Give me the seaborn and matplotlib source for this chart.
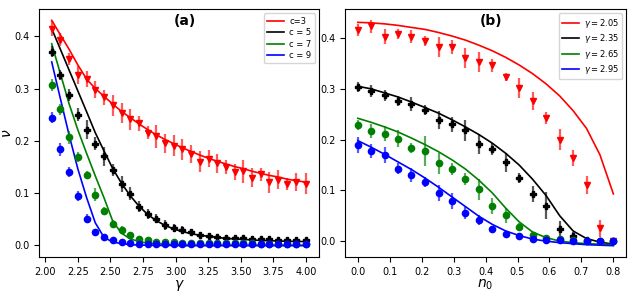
import matplotlib
matplotlib.use('Agg')
import matplotlib.pyplot as plt
import numpy as np
import pandas as pd
import seaborn as sns

# panel (a): nu vs gamma for several c
gamma = [2.05, 2.117, 2.184, 2.251, 2.318, 2.384, 2.451, 2.518, 2.585, 2.652,
         2.719, 2.786, 2.852, 2.919, 2.986, 3.052, 3.119, 3.186, 3.252, 3.319,
         3.386, 3.452, 3.519, 3.586, 3.652, 3.719, 3.786, 3.852, 3.919, 4.0]

sim_c3 = [0.415, 0.394, 0.357, 0.326, 0.318, 0.298, 0.283, 0.268, 0.253, 0.241,
          0.233, 0.215, 0.208, 0.195, 0.190, 0.183, 0.174, 0.159, 0.165, 0.156,
          0.149, 0.140, 0.141, 0.129, 0.135, 0.120, 0.125, 0.117, 0.120, 0.117]
err_c3 = [0.015, 0.012, 0.012, 0.018, 0.016, 0.017, 0.015, 0.02, 0.02, 0.02,
          0.015, 0.012, 0.022, 0.018, 0.02, 0.02, 0.018, 0.02, 0.016, 0.018,
          0.014, 0.015, 0.022, 0.018, 0.012, 0.02, 0.018, 0.012, 0.017, 0.02]
sim_c5 = [0.371, 0.326, 0.288, 0.250, 0.221, 0.194, 0.170, 0.143, 0.117, 0.098,
          0.073, 0.059, 0.050, 0.038, 0.032, 0.029, 0.024, 0.019, 0.017, 0.015,
          0.0135, 0.012, 0.012, 0.010, 0.010, 0.010, 0.008, 0.008, 0.009, 0.009]
err_c5 = [0.01, 0.01, 0.012, 0.013, 0.018, 0.012, 0.018, 0.012, 0.015, 0.012,
          0.01, 0.01, 0.008, 0.01, 0.007, 0.006, 0.006, 0.005, 0.005, 0.005,
          0.005, 0.005, 0.005, 0.004, 0.004, 0.004, 0.004, 0.004, 0.004, 0.004]
sim_c7 = [0.307, 0.260, 0.206, 0.168, 0.134, 0.096, 0.065, 0.040, 0.028, 0.019,
          0.011, 0.008, 0.006, 0.005, 0.0045, 0.004, 0.0035, 0.003, 0.003, 0.003,
          0.003, 0.0025, 0.0025, 0.0025, 0.002, 0.002, 0.002, 0.002, 0.002, 0.002]
err_c7 = [0.012, 0.01, 0.012, 0.01, 0.008, 0.012, 0.008, 0.008, 0.007, 0.005,
          0.004, 0.004, 0.003, 0.003, 0.003, 0.003, 0.003, 0.003, 0.003, 0.003,
          0.003, 0.003, 0.003, 0.003, 0.003, 0.003, 0.003, 0.003, 0.003, 0.003]
sim_c9 = [0.244, 0.183, 0.140, 0.093, 0.050, 0.024, 0.014, 0.0096, 0.0045, 0.003,
          0.002, 0.002, 0.0015, 0.0015, 0.001, 0.001, 0.001, 0.001, 0.001, 0.001,
          0.001, 0.001, 0.001, 0.001, 0.001, 0.001, 0.001, 0.001, 0.001, 0.001]
err_c9 = [0.01, 0.012, 0.01, 0.01, 0.009, 0.005, 0.005, 0.004, 0.003, 0.003,
          0.003, 0.003, 0.003, 0.003, 0.003, 0.003, 0.003, 0.003, 0.003, 0.003,
          0.003, 0.003, 0.003, 0.003, 0.003, 0.003, 0.003, 0.003, 0.003, 0.003]

th_c3 = [0.431, 0.403, 0.375, 0.345, 0.318, 0.300, 0.285, 0.270, 0.256, 0.244,
         0.232, 0.221, 0.211, 0.202, 0.194, 0.186, 0.179, 0.172, 0.166, 0.160,
         0.155, 0.150, 0.146, 0.141, 0.137, 0.133, 0.130, 0.126, 0.123, 0.120]
th_c5 = [0.415, 0.375, 0.335, 0.295, 0.255, 0.215, 0.180, 0.146, 0.118, 0.094,
         0.074, 0.058, 0.046, 0.037, 0.030, 0.025, 0.021, 0.018, 0.016, 0.014,
         0.012, 0.011, 0.010, 0.009, 0.008, 0.0075, 0.007, 0.0065, 0.006, 0.006]
th_c7 = [0.386, 0.328, 0.270, 0.220, 0.175, 0.132, 0.090, 0.045, 0.022, 0.011,
         0.006, 0.003, 0.002, 0.001, 0.0, -0.0005, -0.001, -0.001, -0.001, -0.001,
         -0.001, -0.001, -0.001, -0.001, -0.001, -0.001, -0.001, -0.001, -0.001, -0.001]
th_c9 = [0.351, 0.280, 0.210, 0.145, 0.090, 0.042, 0.014, 0.005, 0.002, 0.0,
         -0.001, -0.001, -0.0015, -0.0015, -0.0015, -0.002, -0.002, -0.002, -0.002, -0.002,
         -0.002, -0.002, -0.002, -0.002, -0.002, -0.002, -0.002, -0.002, -0.002, -0.002]

# panel (b): nu vs n0 for several gamma
n0 = [0.0, 0.042, 0.084, 0.126, 0.168, 0.211, 0.253, 0.295, 0.337, 0.379,
      0.421, 0.463, 0.505, 0.547, 0.589, 0.632, 0.674, 0.716, 0.758, 0.8]

sim_g205 = [0.416, 0.423, 0.403, 0.408, 0.403, 0.395, 0.383, 0.383, 0.361, 0.353,
            0.346, 0.323, 0.301, 0.276, 0.243, 0.200, 0.164, 0.110, 0.025, 0.0]
err_g205 = [0.012, 0.012, 0.014, 0.01, 0.012, 0.01, 0.02, 0.014, 0.02, 0.02,
            0.012, 0.008, 0.02, 0.018, 0.012, 0.02, 0.016, 0.018, 0.016, 0.004]
sim_g235 = [0.303, 0.296, 0.287, 0.276, 0.270, 0.258, 0.238, 0.230, 0.218, 0.192,
            0.182, 0.155, 0.124, 0.093, 0.070, 0.024, 0.010, 0.002, 0.0, 0.0]
err_g235 = [0.01, 0.012, 0.01, 0.01, 0.014, 0.01, 0.018, 0.015, 0.02, 0.02,
            0.012, 0.018, 0.01, 0.016, 0.026, 0.015, 0.008, 0.005, 0.003, 0.003]
sim_g265 = [0.228, 0.217, 0.212, 0.202, 0.183, 0.178, 0.153, 0.142, 0.122, 0.102,
            0.069, 0.051, 0.027, 0.012, 0.007, 0.004, 0.002, 0.001, 0.0, 0.0]
err_g265 = [0.01, 0.014, 0.014, 0.016, 0.01, 0.03, 0.02, 0.012, 0.012, 0.02,
            0.016, 0.015, 0.008, 0.005, 0.004, 0.003, 0.003, 0.003, 0.003, 0.003]
sim_g295 = [0.190, 0.178, 0.170, 0.143, 0.130, 0.116, 0.095, 0.079, 0.055, 0.042,
            0.024, 0.014, 0.010, 0.005, 0.003, 0.002, 0.001, 0.001, 0.0, 0.0]
err_g295 = [0.016, 0.014, 0.016, 0.01, 0.014, 0.01, 0.016, 0.016, 0.012, 0.01,
            0.006, 0.005, 0.005, 0.004, 0.003, 0.003, 0.003, 0.003, 0.003, 0.003]

th_g205 = [0.431, 0.430, 0.428, 0.425, 0.421, 0.417, 0.411, 0.404, 0.396, 0.386,
           0.375, 0.362, 0.347, 0.330, 0.310, 0.286, 0.257, 0.222, 0.170, 0.093]
th_g235 = [0.305, 0.300, 0.292, 0.284, 0.274, 0.263, 0.252, 0.239, 0.225, 0.210,
           0.193, 0.173, 0.150, 0.122, 0.090, 0.050, 0.020, 0.005, -0.002, -0.006]
th_g265 = [0.242, 0.234, 0.225, 0.215, 0.203, 0.190, 0.176, 0.160, 0.142, 0.120,
           0.095, 0.065, 0.038, 0.018, 0.007, 0.0, -0.003, -0.005, -0.006, -0.007]
th_g295 = [0.198, 0.185, 0.171, 0.156, 0.141, 0.124, 0.106, 0.087, 0.068, 0.049,
           0.033, 0.020, 0.011, 0.004, 0.0, -0.003, -0.005, -0.007, -0.008, -0.009]

colors = ['red', 'black', 'green', 'blue']
markers = ['v', 'P', 'o', 'o']


def draw_panel(ax, x, sims, errs, theory, labels, tag, xlabel):
    rows = []
    for lab, th in zip(labels, theory):
        for xi, yi in zip(x, th):
            rows.append([lab, xi, yi])
    df = pd.DataFrame(rows, columns=['label', 'x', 'nu'])
    sns.lineplot(data=df, x='x', y='nu', hue='label', hue_order=labels,
                 palette=dict(zip(labels, colors)), linewidth=1.2, ax=ax)
    for s, e, c, m in zip(sims, errs, colors, markers):
        ax.errorbar(x, s, yerr=e, fmt='none', ecolor=c, elinewidth=1.6, alpha=0.65)
        ax.plot(x, s, linestyle='none', marker=m, color=c, markersize=4.5)
    ax.legend(loc='upper right', fontsize=6, handlelength=2.0,
              labelspacing=0.3, borderpad=0.4, handletextpad=0.6)
    ax.text(0.52, 0.95, tag, transform=ax.transAxes, ha='center', va='center',
            fontsize=10, fontweight='bold')
    ax.set_xlabel(xlabel, fontsize=10, labelpad=1)
    ax.set_ylabel('')
    ax.tick_params(labelsize=7)


fig = plt.figure(figsize=(6.36, 2.92), dpi=100)
ax1 = fig.add_axes([0.0613, 0.12, 0.44, 0.849])
ax2 = fig.add_axes([0.5425, 0.12, 0.442, 0.849])

draw_panel(ax1, gamma, [sim_c3, sim_c5, sim_c7, sim_c9],
           [err_c3, err_c5, err_c7, err_c9],
           [th_c3, th_c5, th_c7, th_c9],
           ['c=3', 'c = 5', 'c = 7', 'c = 9'], '(a)', r'$\gamma$')
ax1.set_xticks([2.0, 2.25, 2.5, 2.75, 3.0, 3.25, 3.5, 3.75, 4.0])
ax1.set_xticklabels(['2.00', '2.25', '2.50', '2.75', '3.00', '3.25', '3.50', '3.75', '4.00'])
ax1.set_ylabel(r'$\nu$', fontsize=10)
ax1.yaxis.set_label_coords(-0.09, 0.5)

draw_panel(ax2, n0, [sim_g205, sim_g235, sim_g265, sim_g295],
           [err_g205, err_g235, err_g265, err_g295],
           [th_g205, th_g235, th_g265, th_g295],
           [r'$\gamma = 2.05$', r'$\gamma = 2.35$', r'$\gamma = 2.65$', r'$\gamma = 2.95$'],
           '(b)', r'$n_0$')

fig.savefig('out.png', dpi=100)
